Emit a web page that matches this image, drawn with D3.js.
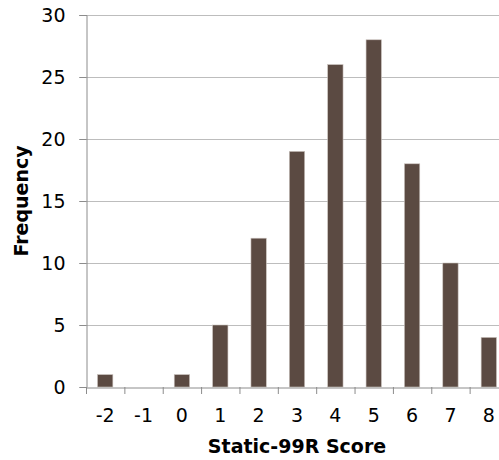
<!DOCTYPE html>
<html><head><meta charset="utf-8">
<script src="https://cdn.jsdelivr.net/npm/d3@7"></script>
<style>body{margin:0;background:#fff;}svg{display:block;}</style>
</head><body>
<script>
const categories = ["-2","-1","0","1","2","3","4","5","6","7","8"];
const values = [1,0,1,5,12,19,26,28,18,10,4];
const yTicks = [0,5,10,15,20,25,30];

(function(){
const W = 499, H = 460;
const mLeft = 86, mTop = 15, mBottom = 387, plotRight = 508;
const svg = d3.select("body").append("svg").attr("width", W).attr("height", H);
const font = "DejaVu Sans, sans-serif";

const x = d3.scaleBand().domain(categories).range([mLeft, plotRight]).paddingInner(0.6).paddingOuter(0.3);
const y = d3.scaleLinear().domain([0,30]).range([mBottom, mTop]);

// gridlines
svg.append("g").selectAll("line").data(yTicks.filter(d=>d>0)).join("line")
  .attr("x1", mLeft-7).attr("x2", W).attr("y1", d=>y(d)+0.5).attr("y2", d=>y(d)+0.5)
  .attr("stroke", "#bdbdbd").attr("stroke-width", 1.2);

// y axis
const ya = svg.append("g").attr("transform", `translate(${mLeft+0.5},0)`)
  .call(d3.axisLeft(y).tickValues(yTicks).tickSize(7).tickPadding(14));
ya.select(".domain").attr("stroke", "#8c8c8c");
ya.selectAll(".tick line").attr("stroke", "#8c8c8c");
ya.selectAll("text").attr("font-family", font).attr("font-size", 19).attr("fill", "#000");

// bars
svg.append("g").selectAll("rect").data(values).join("rect")
  .attr("x", (d,i)=>x(categories[i])).attr("width", x.bandwidth())
  .attr("y", d=>y(d)).attr("height", d=>y(0)-y(d))
  .attr("fill", "#5b4a42").attr("stroke", "#c9c2bd").attr("stroke-width", 0.6);

// x axis
const xa = svg.append("g").attr("transform", `translate(0,${mBottom+0.5})`)
  .call(d3.axisBottom(x).tickSize(0).tickPadding(21));
xa.select(".domain").attr("stroke", "#8c8c8c");
xa.selectAll("text").attr("font-family", font).attr("font-size", 19).attr("fill", "#000");
// boundary ticks between categories
const bounds = d3.range(categories.length+1).map(i => mLeft + i*(plotRight-mLeft)/categories.length);
svg.append("g").selectAll("line").data(bounds).join("line")
  .attr("x1", d=>d+0.5).attr("x2", d=>d+0.5).attr("y1", mBottom).attr("y2", mBottom+7)
  .attr("stroke", "#8c8c8c");

// titles
svg.append("text").attr("x", (mLeft+plotRight)/2).attr("y", 453).attr("text-anchor","middle")
  .attr("font-family", font).attr("font-weight","bold").attr("font-size", 19).text("Static-99R Score");
svg.append("text").attr("transform", `translate(28,${(mTop+mBottom)/2}) rotate(-90)`).attr("text-anchor","middle")
  .attr("font-family", font).attr("font-weight","bold").attr("font-size", 19).text("Frequency");
})();
</script>
</body></html>
